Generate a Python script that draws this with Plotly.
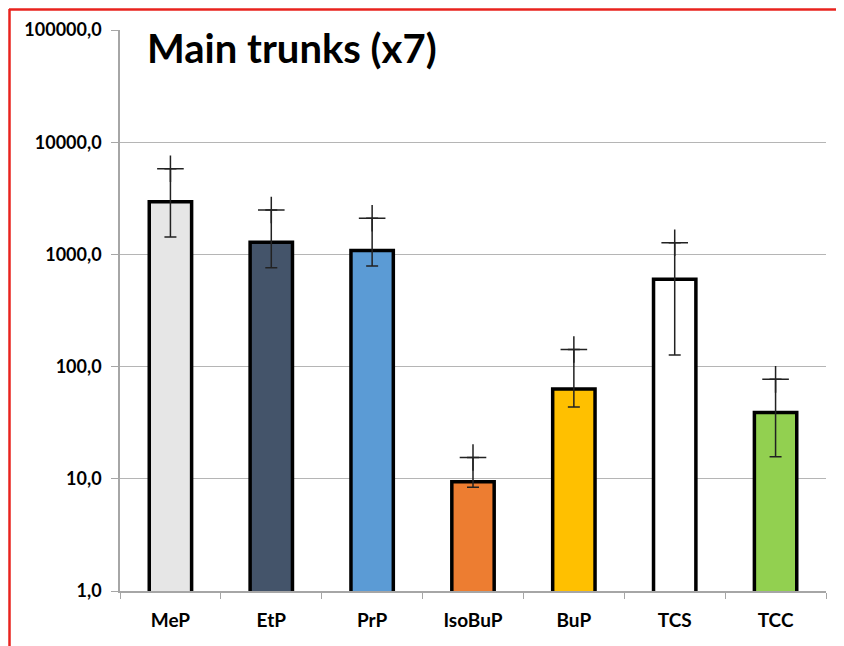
import plotly.graph_objects as go

categories = ["MeP", "EtP", "PrP", "IsoBuP", "BuP", "TCS", "TCC"]
means = [2950, 1280, 1085, 9.4, 63, 600, 39]
upper = [5800, 2490, 2100, 15.5, 142, 1270, 77]
lower = [1430, 760, 788, 8.4, 43.6, 127, 15.7]
colors = ["#E6E6E6", "#44546A", "#5B9BD5", "#ED7D31", "#FFC000", "#FFFFFF", "#92D050"]
y_ticks = [1, 10, 100, 1000, 10000, 100000]

err_plus = [u - m for u, m in zip(upper, means)]
err_minus = [m - l for m, l in zip(means, lower)]

W, H = 836, 638
L, R, T, B = 112, 18, 22, 55
pw, ph = W - L - R, H - T - B

fig = go.Figure()
fig.add_trace(go.Bar(
    x=categories, y=means, width=0.42,
    marker=dict(color=colors, line=dict(color="#000000", width=3.5)),
    error_y=dict(type="data", symmetric=False, array=err_plus, arrayminus=err_minus,
                 color="#222222", thickness=1.5, width=6),
    showlegend=False,
))
fig.add_trace(go.Scatter(
    x=categories, y=upper, mode="markers",
    marker=dict(symbol="cross-thin-open", size=19, color="#222222",
                line=dict(color="#222222", width=1.5)),
    showlegend=False, hoverinfo="skip",
))

fig.update_layout(
    width=W, height=H,
    margin=dict(l=L, r=R, t=T, b=B),
    paper_bgcolor="white", plot_bgcolor="white",
    separators=",.",
    font=dict(family="Lato", color="#000000"),
    xaxis=dict(
        showline=True, linecolor="#A6A6A6", linewidth=1.5,
        ticks="outside", tickson="boundaries", ticklen=6, tickcolor="#A6A6A6",
        tickfont=dict(family="Lato", size=19, color="#000000", weight="bold"),
        ticklabelstandoff=11,
        showgrid=False, automargin=False,
    ),
    yaxis=dict(
        type="log", range=[0, 5],
        tickvals=y_ticks, tickformat=".1f",
        showline=True, linecolor="#A6A6A6", linewidth=1.5,
        ticks="outside", ticklen=7, tickcolor="#A6A6A6",
        showgrid=True, gridcolor="#B5B5B5", gridwidth=1.2,
        tickfont=dict(family="Lato", size=18, color="#000000", weight="bold"),
        ticklabelstandoff=6,
        zeroline=False, automargin=False,
    ),
    shapes=[
        dict(type="rect", xref="paper", yref="paper", x0=0.002, x1=400 / pw, y0=0.93, y1=1.005,
             fillcolor="white", line=dict(width=0), layer="above"),
        dict(type="line", xref="paper", yref="paper", x0=(1 - L) / pw, x1=(W - L) / pw,
             y0=(ph + T - 1.5) / ph, y1=(ph + T - 1.5) / ph,
             line=dict(color="#E8231E", width=2.5)),
        dict(type="line", xref="paper", yref="paper", x0=(1.5 - L) / pw, x1=(1.5 - L) / pw,
             y0=(ph + T - 1) / ph, y1=-B / ph,
             line=dict(color="#E8231E", width=2.5)),
    ],
    annotations=[
        dict(text="<b>Main trunks (x7)</b>", xref="paper", yref="paper",
             x=25 / pw, y=(ph - 18) / ph, xanchor="left", yanchor="middle",
             showarrow=False, font=dict(family="Lato", size=40, color="#000000")),
    ],
)

fig.write_html("out.html")
